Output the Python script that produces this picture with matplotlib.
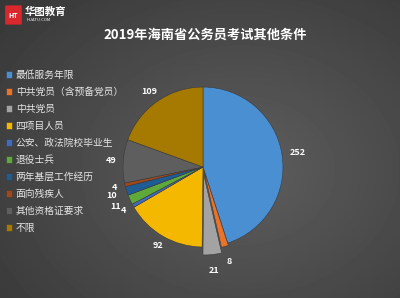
import matplotlib.pyplot as plt
import numpy as np
from matplotlib.patches import FancyBboxPatch

plt.rcParams['font.family'] = ['Noto Sans CJK SC', 'DejaVu Sans']

categories = ['最低服务年限', '中共党员（含预备党员）', '中共党员', '四项目人员',
              '公安、政法院校毕业生', '退役士兵', '两年基层工作经历', '面向残疾人',
              '其他资格证要求', '不限']
values = [252, 8, 21, 92, 4, 11, 10, 4, 49, 109]
colors = ['#4a8fd2', '#e8732a', '#a3a3a3', '#f5b800', '#3f6cc0', '#5fa83a',
          '#1f5c94', '#a2471a', '#5e5e5e', '#a67a00']
explode = [0, 0.03, 0.1, 0, 0, 0, 0, 0, 0, 0]
label_dist = [1.2, 1.19, 1.2, 1.13, 1.13, 1.2, 1.2, 1.14, 1.15, 1.16]
title = '2019年海南省公务员考试其他条件'

fig = plt.figure(figsize=(4, 2.98), dpi=100)

# background gradient
bg = fig.add_axes([0, 0, 1, 1])
yy, xx = np.mgrid[0:298, 0:400]
d = np.sqrt(((xx - 240) / 330.0) ** 2 + ((yy - 170) / 260.0) ** 2)
shade = 0.37 - 0.16 * d
bg.imshow(np.clip(shade, 0.17, 0.4), cmap='gray', vmin=0, vmax=1, aspect='auto')
bg.axis('off')

# logo
fig.patches.append(FancyBboxPatch((6 / 400, 1 - 24 / 298), 15 / 400, 18 / 298,
                                  boxstyle='round,pad=0.002', transform=fig.transFigure,
                                  facecolor='#d9272e', edgecolor='none'))
fig.text(13.5 / 400, 1 - 15 / 298, 'HT', color='white', fontsize=5, fontweight='bold',
         ha='center', va='center')
fig.text(25 / 400, 1 - 12 / 298, '华图教育', color='white', fontsize=7.5, fontweight='bold',
         ha='left', va='center')
fig.text(27 / 400, 1 - 20 / 298, 'HUATU.COM', color='white', fontsize=3, ha='left', va='center')

fig.text(205 / 400, 1 - 35 / 298, title, color='white', fontsize=9.5, fontweight='bold',
         ha='center', va='center')

ax = fig.add_axes([0.2575, 0.104, 0.5, 0.671])
ax.set_facecolor('none')
total = sum(values)
wedges, texts = ax.pie(values, colors=colors, startangle=90, counterclock=False,
                       explode=explode,
                       wedgeprops=dict(edgecolor='#3a3a3a', linewidth=0.4))
for w, v, ex, dist in zip(wedges, values, explode, label_dist):
    ang = np.deg2rad((w.theta1 + w.theta2) / 2)
    r = dist + ex
    ax.text(r * np.cos(ang), r * np.sin(ang), str(v), color='white', fontsize=6.5,
            fontweight='bold', ha='center', va='center')

leg = fig.legend(wedges, categories, loc='upper left', bbox_to_anchor=(0.005, 1 - 66 / 298),
                 frameon=False, fontsize=7, labelcolor='#e6e6e6', handlelength=0.6,
                 handleheight=0.6, handletextpad=0.4, labelspacing=0.72, borderaxespad=0)

fig.savefig('out.png', dpi=100)
